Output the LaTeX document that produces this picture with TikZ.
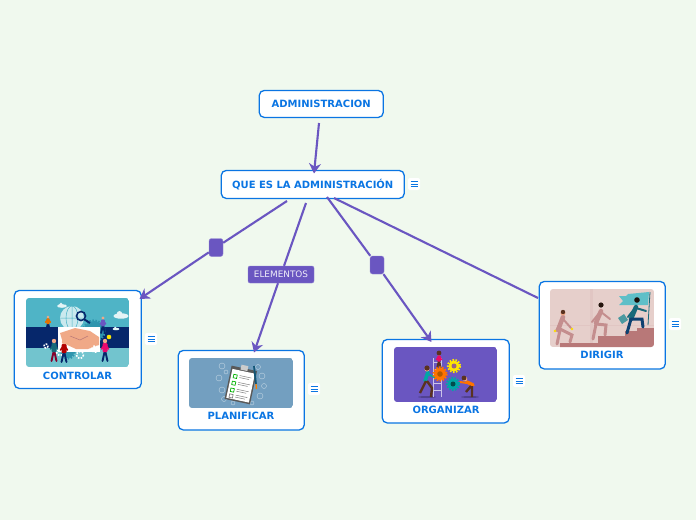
\documentclass[tikz,border=0pt]{standalone}
\usepackage{fontspec}
\setmainfont{DejaVu Sans}
\usetikzlibrary{arrows.meta}
\definecolor{bgc}{HTML}{F0F9EE}
\definecolor{blu}{HTML}{0A75E3}
\definecolor{vio}{HTML}{6A56C1}
\definecolor{skin}{HTML}{F0A987}
\definecolor{tealA}{HTML}{4FB4C6}
\definecolor{tealB}{HTML}{72C4CE}
\definecolor{tealC}{HTML}{2F95AE}
\definecolor{navy}{HTML}{06276B}
\definecolor{steel}{HTML}{739FC0}
\definecolor{rosebg}{HTML}{E6CFCB}
\definecolor{rosedk}{HTML}{B87878}
\definecolor{rosemd}{HTML}{C48E8E}
\definecolor{flagc}{HTML}{5FBFC8}
\definecolor{tealdk}{HTML}{17697A}
\definecolor{hair}{HTML}{5A3220}
\tikzset{
 topic/.style={draw=blu,line width=1.3pt,fill=white,rounded corners=5pt,inner sep=0pt,anchor=north west},
 lab/.style={text=blu,font=\bfseries\fontsize{10}{12}\selectfont,inner sep=0pt},
 link/.style={draw=vio,line width=2.1pt},
 arr/.style={link,-{Stealth[length=10pt,width=12pt]}},
 knob/.style={fill=vio,draw=vio!70,line width=.4pt,rounded corners=2.5pt,minimum width=14pt,minimum height=18pt,inner sep=0pt},
 tag/.style={fill=vio,draw=vio!75,line width=.4pt,rounded corners=2pt,text=white!90!vio,font=\fontsize{8.9}{10}\selectfont,minimum width=66pt,minimum height=17pt,inner sep=0pt},
 notebg/.style={fill=white,rounded corners=2pt,minimum width=12pt,minimum height=12pt,inner sep=0pt},
 pic/.style={rounded corners=3pt},
 gear/.style={line width=2pt,dash pattern=on 1.6pt off 1.4pt},
}
\newcommand{\notemark}[2]{%
 \node[notebg] (#1) at (#2) {};
 \draw[blu,line width=.8pt] ([xshift=-3.5pt,yshift=2.8pt]#1.center) -- ++(7pt,0) ([xshift=-3.5pt]#1.center) -- ++(7pt,0) ([xshift=-3.5pt,yshift=-2.8pt]#1.center) -- ++(7pt,0);
}
% x, y of head, body colour, legs colour, scale
\newcommand{\person}[5]{%
 \begin{scope}[shift={(#1,#2)},scale=#5]
  \draw[#4,line width=1.9pt,line cap=round] (0,9) -- (-2.5,20) (0,9) -- (2.5,20);
  \draw[#3,line width=1.6pt,line cap=round] (0,3) -- (-3.5,8) (0,3) -- (3.5,8);
  \fill[#3,rounded corners=1pt] (-2.5,2) rectangle (2.5,11);
  \fill[skin] (0,0) circle (2.2);
 \end{scope}}
% x, y, radius, colour
\newcommand{\cog}[4]{%
 \fill[#4] (#1,#2) circle (#3);
 \draw[#4,line width=2pt,dash pattern=on 1.6pt off 1.4pt] (#1,#2) circle (#3+.6);
}
\newcommand{\puff}[3]{%
 \fill[white!85!tealA] (#1,#2) ellipse ({5*#3} and {1.8*#3}) (#1-1*#3,#2-1.5*#3) circle (1.8*#3);
}
\begin{document}
\begin{tikzpicture}[x=1pt,y=-1pt]
\useasboundingbox[fill=bgc] (0,0) rectangle (696,520);

\node[topic,minimum width=124pt,minimum height=27pt] (adm) at (258.6,89.8) {};
\node[lab] at (adm.center) {ADMINISTRACION};
\node[topic,minimum width=183pt,minimum height=28pt] (que) at (220.6,169.8) {};
\node[lab] at (que.center) {QUE ES LA ADMINISTRACIÓN};

\node[topic,minimum width=127pt,minimum height=98pt] (con) at (13.6,289.8) {};
\node[topic,minimum width=126pt,minimum height=79.5pt] (pla) at (177.6,349.8) {};
\node[topic,minimum width=127pt,minimum height=83.5pt] (org) at (381.6,338.8) {};
\node[topic,minimum width=126pt,minimum height=87.5pt] (dir) at (538.6,280.8) {};
\node[lab] at (77.5,375.5) {CONTROLAR};
\node[lab] at (241,416) {PLANIFICAR};
\node[lab] at (446,410) {ORGANIZAR};
\node[lab] at (602,355) {DIRIGIR};

\coordinate (a0) at (319,123);
\coordinate (a1) at (314,173.5);
\coordinate (c0) at (287,201);
\coordinate (p0) at (306,203);
\coordinate (o0) at (327,197);
\coordinate (d0) at (334,198);
\coordinate (cEnd) at (139.5,299);
\coordinate (pEnd) at (254,352.5);
\coordinate (oEnd) at (431.5,342);
\coordinate (dEnd) at (538,298);
\node[knob] (k1) at (216,247.5) {};
\node[knob] (k2) at (377,265) {};
\node[tag] (el) at (281,274.5) {ELEMENTOS};

\draw[arr] (a0) -- (a1);
\draw[link] (c0) -- (k1);
\draw[arr] (k1) -- (cEnd);
\draw[link] (p0) -- (el);
\draw[arr] (el) -- (pEnd);
\draw[link] (o0) -- (k2);
\draw[arr] (k2) -- (oEnd);
\draw[link] (d0) -- (dEnd);

% CONTROLAR picture
\begin{scope}
 \clip[pic] (26,298) rectangle (129,367);
 \fill[tealA] (26,298) rectangle (129,327);
 \fill[tealB] (26,348) rectangle (129,367);
 \fill[navy] (26,327) rectangle (129,348);
 \fill[white!70!tealA] (72,318) circle (12);
 \draw[tealA,line width=.5pt] (60,318) -- (84,318) (72,306) -- (72,330) (72,318) ellipse (6 and 12);
 \cog{94}{331}{10}{tealC}
 \cog{68}{352}{6}{tealC}
 \fill[white] (58,327) rectangle (100,352);
 \puff{62}{306}{1.0}
 \puff{121}{316}{1.5}
 \puff{116}{329}{.7}
 \draw[navy,line width=1.6pt] (81,316) circle (4.5);
 \draw[navy,line width=2pt] (84.5,319.5) -- (90,323);
 \fill[skin] (60,333) -- (75,328) -- (90,331) -- (99,337) -- (99,345) -- (88,349) -- (76,349) -- (63,343) -- cycle;
 \draw[rosedk,line width=.5pt] (70,336) -- (80,340) -- (88,336);
 \draw[white,gear,line width=1.6pt] (60,352) circle (3.5) (80,355) circle (3.5);
 \draw[white,gear,line width=1.5pt] (46,346) circle (2);
 \draw[white,line width=1.2pt,gear] (95,349) circle (3);
 \person{48}{317}{orange!90!black}{navy}{.65}
 \person{103}{318}{vio}{navy}{.75}
 \person{54}{341}{tealdk}{purple!70!black}{1}
 \person{64}{342}{red!70!black}{navy}{1}
 \person{105}{341}{magenta!70!red}{navy}{1}
 \fill[yellow!90!orange] (109,337) circle (2.3);
\end{scope}

% PLANIFICAR picture
\begin{scope}
 \clip[pic] (189,358) rectangle (293,408);
 \fill[steel] (189,358) rectangle (293,408);
 \draw[white!55!steel,line width=.4pt]
   (222,366) circle (3) (226,372) circle (2) (219,378) circle (3) (222,390) circle (3)
   (224,399) circle (2.5) (258,367) circle (2.5) (262,376) circle (3) (264,386) circle (2.5)
   (260,396) circle (3) (252,403) circle (2) (233,403) circle (2);
 \begin{scope}[shift={(241,384)},rotate=-12]
  \fill[gray!70!black] (-13,-16) rectangle (13,18);
  \fill[white] (-11.5,-13) rectangle (11.5,16.5);
  \fill[gray!40] (-3.5,-19) rectangle (3.5,-14);
  \foreach \yy/\cc in {-8/green!70!black,-1/green!70!black,6/green!70!black,12/gray} {
   \draw[\cc,line width=.7pt] (-9,\yy) rectangle (-5.5,\yy+3.5);
   \draw[gray,line width=.5pt] (-3,\yy) -- (9,\yy) (-3,\yy+2) -- (7,\yy+2);
  }
 \end{scope}
 \draw[tealdk!70!navy,line width=1.8pt] (254,366) -- (256,384);
 \draw[orange,line width=1.3pt] (256,384) -- (256.4,389);
\end{scope}

% ORGANIZAR picture
\begin{scope}
 \clip[pic] (394,347) rectangle (497,402);
 \fill[vio] (394,347) rectangle (497,402);
 \fill[vio!75!black] (427,397) ellipse (9 and 1);
 \fill[vio!75!black] (470,397) ellipse (9 and 1);
 \draw[white!65!vio,line width=.9pt] (433,358) -- (433,397) (441,358) -- (441,397)
   (433,362) -- (441,362) (433,369) -- (441,369) (433,376) -- (441,376) (433,383) -- (441,383) (433,390) -- (441,390);
 \person{439}{354}{magenta!65!red}{hair}{.7}
 \fill[hair] (439,353) circle (2.4);
 \draw[teal!70!cyan,line width=3.5pt,line cap=round] (428,372) -- (425,381);
 \draw[teal!70!cyan,line width=2pt,line cap=round] (428,374) -- (436,378);
 \draw[hair,line width=2.4pt] (427,381) -- (432,388) -- (431,397) (426,381) -- (420,393);
 \fill[skin] (427,369) circle (2.5);
 \fill[hair] (427,368) circle (2.6);
 \draw[orange!90!red,line width=3.5pt,line cap=round] (467,382) -- (473,385);
 \draw[orange!90!red,line width=2pt,line cap=round] (467,383) -- (460,382);
 \draw[hair,line width=2.4pt] (472,386) -- (472,397) (471,386) -- (466,392);
 \fill[skin] (465,379) circle (2.3);
 \fill[hair] (464,378) circle (2.4);
 \cog{454}{366}{5.5}{yellow!90!orange}
 \fill[vio!70!orange] (454,366) circle (2.5);
 \cog{440}{374}{6}{orange!90!red}
 \fill[orange!70!black] (440,374) circle (2.8);
 \cog{453}{384}{5.5}{teal!70!cyan}
 \fill[teal!60!black] (453,384) circle (2.5);
\end{scope}

% DIRIGIR picture
\begin{scope}
 \clip[pic] (550,289) rectangle (654,347);
 \fill[rosebg] (550,289) rectangle (654,347);
 \fill[rosebg!90!rosedk] (590,289) rectangle (593,343);
 \fill[rosebg!90!rosedk] (550,325) rectangle (654,326);
 \fill[rosedk] (560,347) -- (560,343) -- (598,343) -- (598,336) -- (625,336) -- (625,331) -- (637,331) -- (637,328) -- (654,328) -- (654,347) -- cycle;
 \fill[flagc] (619,296) -- (626,296) -- (628,294) -- (649,292) -- (648,305) -- (627,305) -- (619,305) -- (623,301) -- cycle;
 \draw[tealdk,line width=.8pt] (650,292) -- (648,325);
 % people
 \draw[rosemd,line width=4.5pt,line cap=round] (563,317) -- (558,330);
 \draw[rosemd,line width=2pt,line cap=round] (563,319) -- (571,328) (563,319) -- (556,331);
 \draw[rosemd,line width=3pt,line cap=round] (560,329) -- (572,335) -- (570,342) (560,330) -- (557,344);
 \fill[skin] (563,313) circle (2.5);
 \fill[hair] (563,312) circle (2.2);
 \fill[yellow!80!orange] (572,329) circle (1.3) (555,331) circle (1.3);
 \draw[rosemd,line width=4.5pt,line cap=round] (601,311) -- (596,323);
 \draw[rosemd,line width=2pt,line cap=round] (601,312) -- (610,319) (600,312) -- (592,322);
 \draw[rosemd,line width=3pt,line cap=round] (596,324) -- (606,325) -- (605,335) (596,324) -- (593,339);
 \fill[black!60!hair] (601,305) circle (2.6);
 \draw[tealdk,line width=4.5pt,line cap=round] (636,307) -- (631,319);
 \draw[tealdk,line width=2pt,line cap=round] (636,308) -- (646,311) (635,308) -- (628,317);
 \draw[navy!60!tealdk,line width=3pt,line cap=round] (631,319) -- (642,319) -- (643,327) (631,319) -- (627,333);
 \fill[black!70!hair] (637,300) circle (2.8);
 \fill[flagc!80!black] (618,318) -- (624,314) -- (628,320) -- (622,324) -- cycle;
\end{scope}

\notemark{n1}{414,184}
\notemark{n2}{151,339}
\notemark{n3}{314,389}
\notemark{n4}{519,381}
\notemark{n5}{675,324}
\end{tikzpicture}
\end{document}
